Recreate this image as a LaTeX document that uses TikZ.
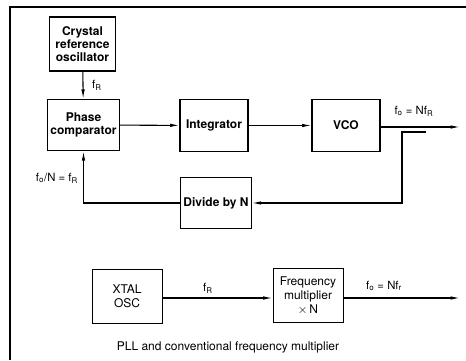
\documentclass[tikz,border=0pt]{standalone}
\usepackage{fontspec}
\setmainfont{TeX Gyre Heros}
\usetikzlibrary{positioning,arrows.meta}

\begin{document}
\begin{tikzpicture}[
  x=0.75pt, y=-0.75pt,
  >={Latex[length=7pt,width=2.6pt]},
  box/.style={draw, line width=0.8pt, align=center, inner sep=2pt, minimum width=51pt, minimum height=38.5pt, font=\fontsize{9}{10}\selectfont\bfseries},
  plain/.style={draw, line width=0.7pt, align=center, inner sep=2pt, minimum width=52.5pt, minimum height=40pt, font=\fontsize{9}{10.5}\selectfont},
  lab/.style={font=\fontsize{8.5}{10}\selectfont, inner sep=1pt},
  arr/.style={->, line width=0.8pt},
]
\useasboundingbox (0,0) rectangle (466,360);
% frame
\draw[line width=0.8pt] (466,7) -- (10,7) -- (10,360);

% PLL loop
\node[box, minimum width=49pt, minimum height=40.5pt] (xo) at (82.5,44) {Crystal\\ reference\\ oscillator};
\node[box] (pc) at (83.5,125) {Phase\\ comparator};
\node[box] (int) at (214,125.5) {Integrator};
\node[box] (vco) at (346,125.5) {VCO};
\node[box] (div) at (216,203) {Divide by N};
\coordinate (out) at (460,127);
\coordinate (tap) at (426,132);
\coordinate (tapc) at (402,132);

\draw[arr] (xo) -- (pc);
\draw[arr] (pc) -- (int);
\draw[arr] (int) -- (vco);
\draw[arr] (vco.east |- out) -- (out);
\draw[arr] (tap) -- (tapc) |- (div.east);
\draw[arr] (div.west) -| (pc.south);

\node[lab] at (97,85) {f\textsubscript{R}};
\node[lab] at (414,111) {f\textsubscript{o} = Nf\textsubscript{R}};
\node[lab] at (57,178) {f\textsubscript{o}/N = f\textsubscript{R}};

% conventional multiplier
\node[plain] (osc) at (127,296.5) {XTAL\\ OSC};
\node[plain] (mul) at (308,295.5) {Frequency\\ multiplier\\ ${\times}\,$N};
\coordinate (out2) at (460,298);
\draw[arr] (osc.east |- out2) -- (mul.west |- out2);
\draw[arr] (mul.east |- out2) -- (out2);
\node[lab] at (208,288) {f\textsubscript{R}};
\node[lab] at (384,286) {f\textsubscript{o} = Nf\textsubscript{r}};

\node[lab, font=\fontsize{9}{10}\selectfont] (cap) at (228,347) {PLL and conventional frequency multiplier};
\end{tikzpicture}
\end{document}
